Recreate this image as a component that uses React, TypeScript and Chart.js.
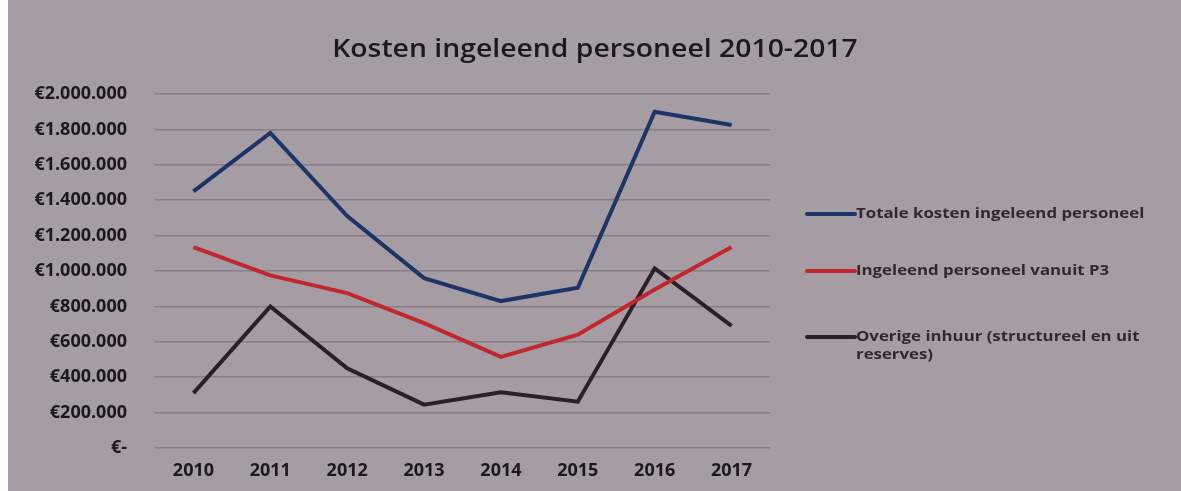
import React, { useEffect, useRef } from "react";
import { Chart, registerables } from "chart.js";

Chart.register(...registerables);

const years = ["2010", "2011", "2012", "2013", "2014", "2015", "2016", "2017"];
const totaleKosten = [1450000, 1780000, 1310000, 960000, 830000, 905000, 1900000, 1825000];
const vanuitP3 = [1135000, 975000, 875000, 705000, 515000, 640000, 895000, 1135000];
const overigeInhuur = [310000, 800000, 450000, 245000, 315000, 262000, 1015000, 690000];
const seriesLabels = [
  "Totale kosten ingeleend personeel",
  "Ingeleend personeel vanuit P3",
  "Overige inhuur (structureel en uit|reserves)",
];
const seriesColors = ["#1d3466", "#c1272d", "#2b2029"];
const chartTitle = "Kosten ingeleend personeel 2010-2017";

const BG = "#a59da3";
const FONT = "'Open Sans', Lato, sans-serif";

function euro(v: number): string {
  if (v === 0) return "€-";
  return "€" + Math.round(v).toString().replace(/\B(?=(\d{3})+(?!\d))/g, ".");
}

const bgPlugin = {
  id: "bgFill",
  beforeDraw(chart: any) {
    const { ctx, width, height } = chart;
    ctx.save();
    ctx.fillStyle = BG;
    ctx.fillRect(0, 0, width, height);
    ctx.restore();
  },
};

const decorPlugin = {
  id: "decor",
  afterDraw(chart: any) {
    const { ctx } = chart;
    ctx.save();
    // title
    ctx.fillStyle = "#1c181c";
    ctx.font = `600 26px ${FONT}`;
    ctx.textAlign = "center";
    ctx.textBaseline = "middle";
    ctx.save();
    ctx.translate(587, 50);
    ctx.scale(1.09, 1);
    ctx.fillText(chartTitle, 0, 0);
    ctx.restore();

    // legend
    const x0 = 797;
    const ys = [214, 271, 337];
    ctx.textAlign = "left";
    chart.data.datasets.forEach((ds: any, i: number) => {
      const y = ys[i];
      ctx.strokeStyle = ds.borderColor;
      ctx.lineWidth = 4;
      ctx.lineCap = "round";
      ctx.beginPath();
      ctx.moveTo(x0 + 2, y);
      ctx.lineTo(x0 + 50, y);
      ctx.stroke();
      ctx.fillStyle = "#35262d";
      ctx.font = `bold 15px ${FONT}`;
      ctx.textBaseline = "middle";
      const lines = String(ds.label).split("|");
      lines.forEach((ln: string, j: number) => {
        ctx.save();
        ctx.translate(x0 + 51, y + j * 18);
        ctx.scale(1.12, 1);
        ctx.fillText(ln, 0, 0);
        ctx.restore();
      });
    });
    ctx.restore();
  },
};

export default function App() {
  const ref = useRef<HTMLCanvasElement | null>(null);
  useEffect(() => {
    if (!ref.current) return;
    const data = [totaleKosten, vanuitP3, overigeInhuur];
    const chart = new Chart(ref.current, {
      type: "line",
      data: {
        labels: years,
        datasets: data.map((d, i) => ({
          label: seriesLabels[i],
          data: d,
          borderColor: seriesColors[i],
          backgroundColor: seriesColors[i],
          borderWidth: 4,
          pointRadius: 0,
          tension: 0,
          fill: false,
        })),
      },
      plugins: [bgPlugin, decorPlugin],
      options: {
        animation: false,
        responsive: false,
        maintainAspectRatio: false,
        layout: { padding: { top: 94, right: 411, bottom: 8, left: 0 } },
        plugins: {
          legend: { display: false },
          tooltip: { enabled: false },
          title: { display: false },
        },
        scales: {
          x: {
            offset: true,
            grid: { display: false, drawTicks: false },
            border: { display: false },
            afterFit(scale: any) {
              scale.height = 35;
            },
            ticks: {
              color: "#1c181c",
              font: { family: FONT, size: 18, weight: "bold" },
              padding: 12,
              maxRotation: 0,
            },
          },
          y: {
            min: 0,
            max: 2000000,
            afterFit(scale: any) {
              scale.width = 147;
            },
            grid: { color: "#867e85", lineWidth: 1.5, drawTicks: false },
            border: { display: false },
            ticks: {
              stepSize: 200000,
              color: "#1c181c",
              font: { family: FONT, size: 18, weight: "bold" },
              padding: 28,
              callback: (v: any) => euro(Number(v)),
            },
          },
        },
      },
    });
    return () => chart.destroy();
  }, []);
  return (
    <div style={{ position: "fixed", left: 8, top: 0, width: 1173, height: 491, background: BG }}>
      <canvas ref={ref} width={1173} height={491} style={{ display: "block" }} />
    </div>
  );
}
